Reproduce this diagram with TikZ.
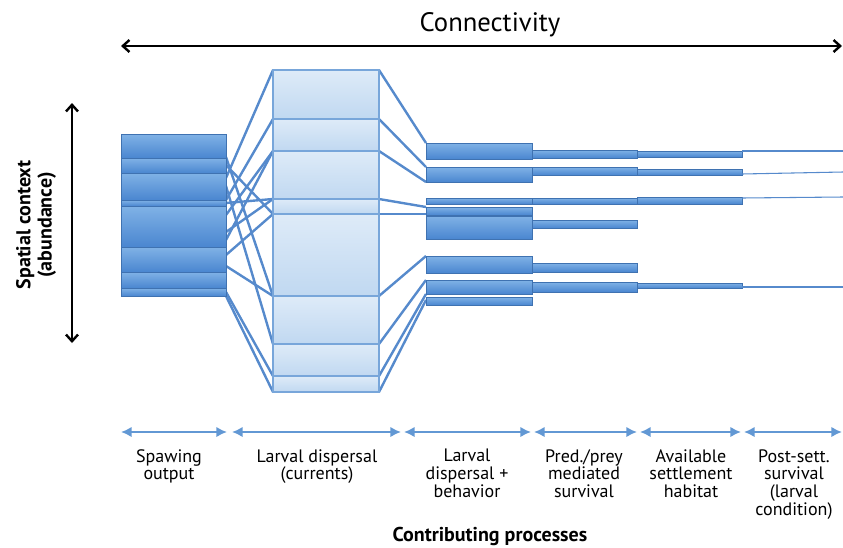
\documentclass[tikz,border=0pt]{standalone}
\usepackage{fontspec}
\setmainfont{PT Sans}
\usetikzlibrary{arrows.meta}

\definecolor{barblue}{RGB}{74,134,208}
\definecolor{barlight}{RGB}{128,178,230}
\definecolor{paleblue}{RGB}{222,235,248}
\definecolor{palemid}{RGB}{192,216,241}
\definecolor{boxedge}{RGB}{120,166,218}
\definecolor{linkblue}{RGB}{86,138,204}
\definecolor{spanblue}{RGB}{98,152,212}

\tikzset{
  bar/.style={draw=barblue!85!black, line width=0.4pt, top color=barlight, bottom color=barblue},
  palebox/.style={draw=boxedge, line width=0.9pt, top color=paleblue, bottom color=palemid},
  link/.style={linkblue, line width=1.8pt},
  thinlink/.style={linkblue, line width=0.8pt},
  span/.style={spanblue, line width=1.8pt, {Latex[length=8pt,width=8pt]}-{Latex[length=8pt,width=8pt]}},
  axis/.style={black, line width=1.8pt, {Straight Barb[length=5pt,width=9pt]}-{Straight Barb[length=5pt,width=9pt]}},
  steplabel/.style={anchor=north, align=center, font=\fontsize{13.5}{13.4}\selectfont, inner sep=0pt}
}

\begin{document}
\begin{tikzpicture}[x=0.75pt,y=0.75pt,yscale=-1,xscale=1]
\useasboundingbox (0,0) rectangle (843,547);

% Links spawning -> dispersal (tangle)
\foreach \ya/\yb in {157/296, 165/214, 178/70, 186/344, 200/119, 203/199, 215/151, 232/199, 240/151, 255/214, 266/296, 292/376, 296/392}
  \draw[link] (226,\ya) -- (273,\yb);

% Links dispersal -> dispersal + behavior
\foreach \ya/\yb in {70/143, 119/167, 151/182, 199/207, 214/214, 296/256, 344/280, 376/294, 392/300}
  \draw[link] (379,\ya) -- (426,\yb);

% Spawning output
\foreach \ya/\yb in {134/158, 158/173, 173/200, 200/206, 206/247, 247/272, 272/288, 288/296}
  \draw[bar] (121,\ya) rectangle (226,\yb);

% Larval dispersal (currents)
\foreach \ya/\yb in {70/119, 119/151, 151/199, 199/214, 214/296, 296/344, 344/376, 376/392}
  \draw[palebox] (273,\ya) rectangle (379,\yb);

% Larval dispersal + behavior
\foreach \ya/\yb in {143/159, 167/182, 198/204, 207/215, 216/239, 256/273, 280/294, 297/305}
  \draw[bar] (426,\ya) rectangle (532,\yb);

% Pred./prey mediated survival
\foreach \ya/\yb in {150/158, 167/175, 198/204, 220/228, 263/272, 282/292}
  \draw[bar] (532,\ya) rectangle (637,\yb);

% Available settlement habitat
\foreach \ya/\yb in {151/157, 169/175, 197/204, 283/288}
  \draw[bar] (637,\ya) rectangle (742,\yb);

% Post-settlement survival
\foreach \ya/\yb in {151/151, 174/172, 198/197, 287/287}
  \draw[thinlink] (742,\ya) -- (843,\yb);

% Connectivity axis
\coordinate (conL) at (121,46);
\coordinate (conR) at (842,46);
\draw[axis] (conL) -- (conR);
\node (conn) at (490,25) {\fontsize{20}{24}\selectfont Connectivity};

% Spatial context axis
\coordinate (spaT) at (72,103);
\coordinate (spaB) at (72,343);
\draw[axis] (spaT) -- (spaB);
\node[rotate=90, align=center, font=\fontsize{15}{16}\bfseries] (spatial) at (36,225) {Spatial context\\(abundance)};

% Process spans
\coordinate (s0) at (121,432);  \coordinate (s1) at (227,432);
\coordinate (s2) at (232,432);  \coordinate (s3) at (401,432);
\coordinate (s4) at (404,432);  \coordinate (s5) at (531,432);
\coordinate (s6) at (534,432);  \coordinate (s7) at (637,432);
\coordinate (s8) at (640,432);  \coordinate (s9) at (741,432);
\coordinate (s10) at (744,432); \coordinate (s11) at (842,432);
\draw[span] (s0) -- (s1);
\draw[span] (s2) -- (s3);
\draw[span] (s4) -- (s5);
\draw[span] (s6) -- (s7);
\draw[span] (s8) -- (s9);
\draw[span] (s10) -- (s11);

% Text Node
\node[steplabel] (spawn) at (169,449) {Spawing\\output};
\node[steplabel] (curr) at (317,449) {Larval dispersal\\(currents)};
\node[steplabel] (behav) at (467,449) {Larval\\dispersal +\\behavior};
\node[steplabel] (pred) at (584,449) {Pred./prey\\mediated\\survival};
\node[steplabel] (habit) at (691,449) {Available\\settlement\\habitat};
\node[steplabel] (post) at (794,449) {Post-sett.\\survival\\(larval\\condition)};
\node[font=\fontsize{15}{18}\bfseries] (proc) at (490,536) {Contributing processes};

\end{tikzpicture}
\end{document}
